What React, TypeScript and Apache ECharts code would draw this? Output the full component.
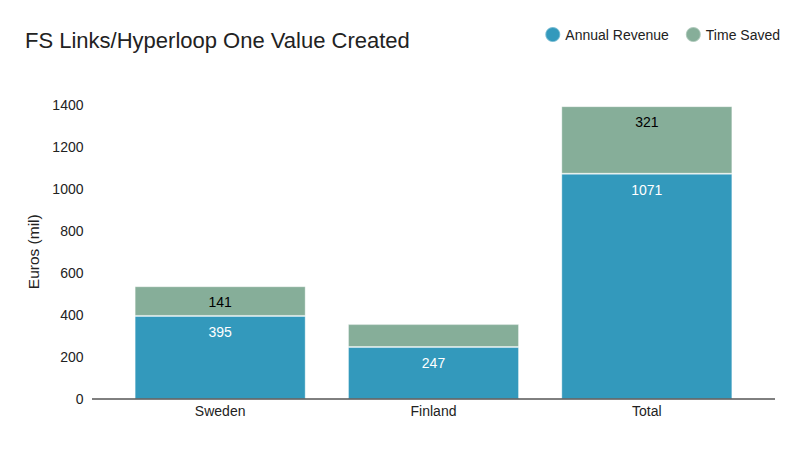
import * as echarts from 'echarts';
import React, { useEffect, useRef } from 'react';

const categories = ['Sweden', 'Finland', 'Total'];
const annualRevenue = [395, 247, 1071];
const timeSaved = [141, 109, 321];
const hiddenTimeSavedLabels = ['Finland'];

const FONT = '"Liberation Sans", Arial, sans-serif';

const App: React.FC = () => {
  const chartRef = useRef<HTMLDivElement>(null);

  useEffect(() => {
    if (!chartRef.current) return;
    const chart = echarts.init(chartRef.current, undefined, { renderer: 'svg' });

    const option: echarts.EChartsOption = {
      animation: false,
      textStyle: { fontFamily: FONT },
      title: {
        text: 'FS Links/Hyperloop One Value Created',
        left: 20,
        top: 24,
        textStyle: { fontSize: 22, fontWeight: 'normal', color: '#222', fontFamily: FONT },
      },
      legend: {
        right: 15,
        top: 21,
        icon: 'circle',
        itemWidth: 15,
        itemHeight: 15,
        itemGap: 16,
        textStyle: { fontSize: 14, color: '#222', fontFamily: FONT },
        data: ['Annual Revenue', 'Time Saved'],
      },
      grid: { left: 113.5, right: 46.5, top: 104.5, bottom: 51 },
      xAxis: {
        type: 'category',
        data: categories,
        axisLine: { show: false },
        axisTick: { show: false },
        axisLabel: { fontSize: 14, color: '#222', margin: 5 },
      },
      yAxis: {
        type: 'value',
        min: 0,
        max: 1400,
        interval: 200,
        name: 'Euros (mil)',
        nameLocation: 'middle',
        nameGap: 65,
        nameTextStyle: { fontSize: 15.5, color: '#222' },
        splitLine: { show: false },
        axisLine: { show: false },
        axisTick: { show: false },
        axisLabel: { fontSize: 14, color: '#222', margin: 30, formatter: (v: number) => String(v) },
      },
      graphic: [
        {
          type: 'line',
          shape: { x1: 92, y1: 399, x2: 775, y2: 399 },
          style: { stroke: '#000', lineWidth: 1 },
          z: 10,
        },
      ],
      series: [
        {
          name: 'Annual Revenue',
          type: 'bar',
          stack: 'total',
          barWidth: 171,
          data: annualRevenue,
          itemStyle: { color: '#3399bc', borderColor: 'rgba(255,255,255,0.35)', borderWidth: 1 },
          label: {
            show: true,
            position: 'insideTop',
            distance: 9,
            color: '#fff',
            fontSize: 14,
          },
        },
        {
          name: 'Time Saved',
          type: 'bar',
          stack: 'total',
          barWidth: 171,
          data: timeSaved.map((v, i) => ({
            value: v,
            label: { show: !hiddenTimeSavedLabels.includes(categories[i]) },
          })),
          itemStyle: { color: '#86ae99', borderColor: 'rgba(255,255,255,0.35)', borderWidth: 1 },
          label: {
            show: true,
            position: 'insideTop',
            distance: 9,
            color: '#000',
            fontSize: 14,
          },
        },
      ],
    };

    chart.setOption(option);
    return () => chart.dispose();
  }, []);

  return <div ref={chartRef} style={{ width: 800, height: 450, margin: -8 }} />;
};

export default App;
